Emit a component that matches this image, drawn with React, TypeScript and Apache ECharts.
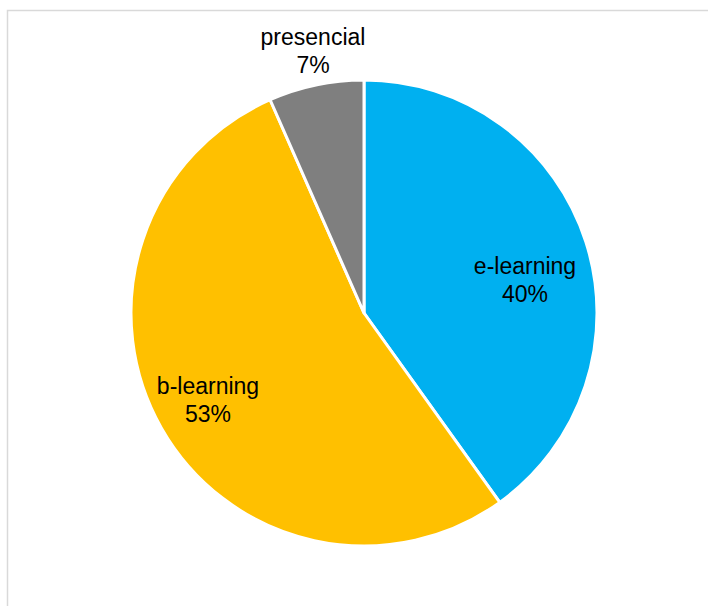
import React, { useEffect, useRef } from "react";
import * as echarts from "echarts";

const categories = ["e-learning", "b-learning", "presencial"];
const values = [40.1, 53.3, 6.6];
const colors = ["#00B0F0", "#FFC000", "#7F7F7F"];

// label block centre offsets (px) from pie centre
const labelOffsets: [number, number][] = [
  [161, -33],
  [-156, 87],
  [-51, -262],
];

const CX = 364;
const CY = 313;

export default function App() {
  const ref = useRef<HTMLDivElement>(null);
  useEffect(() => {
    if (!ref.current) return;
    const chart = echarts.init(ref.current, null, { renderer: "svg" });
    chart.setOption({
      animation: false,
      backgroundColor: "#ffffff",
      graphic: [
        {
          type: "rect",
          shape: { x: 7.5, y: 10.5, width: 760, height: 700 },
          style: { fill: "none", stroke: "#D9D9D9", lineWidth: 1.5 },
          silent: true,
          z: -10,
        },
      ],
      series: [
        {
          type: "pie",
          center: [CX, CY],
          radius: 233,
          startAngle: 90,
          clockwise: true,
          percentPrecision: 0,
          itemStyle: { borderColor: "#ffffff", borderWidth: 3 },
          label: {
            show: true,
            position: "inside",
            formatter: "{b}\n{d}%",
            fontFamily: "Liberation Sans, Arial, sans-serif",
            fontSize: 23,
            lineHeight: 28,
            color: "#000000",
            align: "center",
            verticalAlign: "middle",
          },
          labelLine: { show: false },
          labelLayout: (params: any) => {
            const off = labelOffsets[params.dataIndex];
            return {
              x: CX + off[0],
              y: CY + off[1],
              align: "center",
              verticalAlign: "middle",
            };
          },
          emphasis: { disabled: true },
          data: categories.map((name, i) => ({
            name,
            value: values[i],
            itemStyle: { color: colors[i] },
          })),
        },
      ],
    });
    return () => chart.dispose();
  }, []);
  return (
    <div
      ref={ref}
      style={{ position: "absolute", left: 0, top: 0, width: 708, height: 606 }}
    />
  );
}
